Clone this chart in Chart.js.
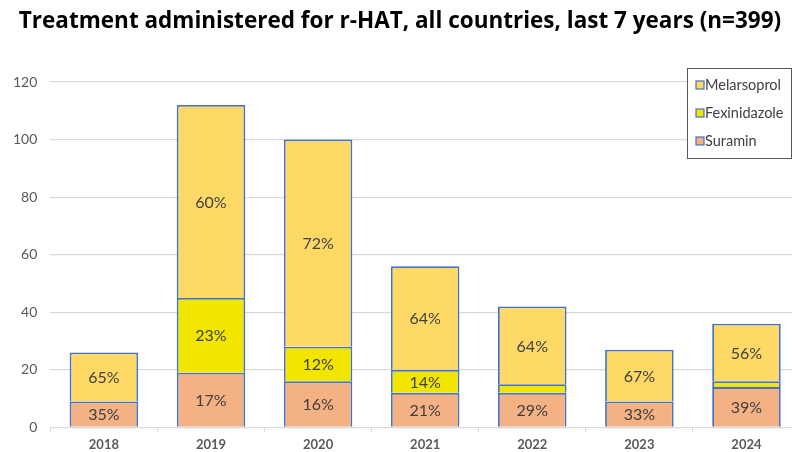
<!DOCTYPE html>
<html>
<head>
<meta charset="utf-8">
<script src="https://cdn.jsdelivr.net/npm/chart.js"></script>
<style>
  body { margin: 0; overflow: hidden; background: #fff; }
  #wrap { width: 800px; height: 452px; }
</style>
</head>
<body>
<div id="wrap"><canvas id="hatChart" width="800" height="452"></canvas></div>
<script>
const years = ['2018', '2019', '2020', '2021', '2022', '2023', '2024'];
const suramin = [9, 19, 16, 12, 12, 9, 14];
const fexinidazole = [0, 26, 12, 8, 3, 0, 2];
const melarsoprol = [17, 67, 72, 36, 27, 18, 20];
const yMax = 120;
const yStep = 20;

const labelFont = 'Lato, "Open Sans", sans-serif';

// percentage of the yearly total, written in the middle of each segment
const percentLabels = {
  id: 'percentLabels',
  afterDatasetsDraw(chart) {
    const ctx = chart.ctx;
    const totals = years.map((_, j) =>
      chart.data.datasets.reduce((s, ds) => s + ds.data[j], 0));
    ctx.save();
    ctx.font = '16px ' + labelFont;
    ctx.fillStyle = '#404040';
    ctx.textAlign = 'center';
    ctx.textBaseline = 'middle';
    chart.data.datasets.forEach((ds, i) => {
      const meta = chart.getDatasetMeta(i);
      meta.data.forEach((bar, j) => {
        const pct = Math.round(ds.data[j] / totals[j] * 100);
        if (pct < 10) return;
        const p = bar.getProps(['x', 'y', 'base'], true);
        ctx.fillText(pct + '%', p.x, (p.y + p.base) / 2 + 1);
      });
    });
    ctx.restore();
  }
};

// boxed legend sitting over the top right of the plot
const boxLegend = {
  id: 'boxLegend',
  afterDraw(chart) {
    const ctx = chart.ctx;
    const x0 = 687, y0 = 68, w = 104, h = 90;
    ctx.save();
    ctx.fillStyle = '#fff';
    ctx.fillRect(x0, y0, w, h);
    ctx.strokeStyle = '#595959';
    ctx.lineWidth = 1;
    ctx.strokeRect(x0 + 0.5, y0 + 0.5, w, h);
    const items = chart.data.datasets.slice().reverse();
    ctx.font = '14.5px ' + labelFont;
    ctx.textBaseline = 'middle';
    items.forEach((ds, k) => {
      const cy = 85 + k * 28;
      ctx.fillStyle = ds.backgroundColor;
      ctx.fillRect(696, cy - 4, 8, 8);
      ctx.strokeStyle = ds.borderColor;
      ctx.lineWidth = 1.2;
      ctx.strokeRect(696, cy - 4, 8, 8);
      ctx.fillStyle = '#404040';
      ctx.fillText(ds.label, 705, cy);
    });
    ctx.restore();
  }
};

const common = { borderColor: '#4472C4', borderWidth: 1.8,
  categoryPercentage: 0.8, barPercentage: 0.8 };

new Chart(document.getElementById('hatChart'), {
  type: 'bar',
  data: {
    labels: years,
    datasets: [
      { label: 'Suramin', data: suramin, backgroundColor: '#F4B183', ...common },
      { label: 'Fexinidazole', data: fexinidazole, backgroundColor: '#F2E500', ...common },
      { label: 'Melarsoprol', data: melarsoprol, backgroundColor: '#FFD966', ...common }
    ]
  },
  options: {
    responsive: false,
    animation: false,
    layout: { padding: { left: 0, right: 0, top: 0, bottom: -6 } },
    plugins: {
      legend: { display: false },
      tooltip: { enabled: false },
      title: {
        display: true,
        text: 'Treatment administered for r-HAT, all countries, last 7 years (n=399)',
        color: '#000',
        font: { family: '"Open Sans", sans-serif', size: 22.5, weight: 'bold' },
        padding: { top: 8, bottom: 47 }
      }
    },
    scales: {
      x: {
        stacked: true,
        grid: { drawOnChartArea: false, drawTicks: true, tickLength: 5, color: '#d9d9d9' },
        border: { color: '#d9d9d9', width: 1 },
        ticks: { color: '#595959', padding: 5, font: { family: labelFont, size: 13, weight: 'bold' } }
      },
      y: {
        stacked: true,
        min: 0,
        max: yMax,
        ticks: { stepSize: yStep, color: '#595959', padding: 13, font: { family: labelFont, size: 14 } },
        grid: { color: '#d9d9d9', drawTicks: false, lineWidth: 1.2 },
        border: { display: false }
      }
    }
  },
  plugins: [percentLabels, boxLegend]
});
</script>
</body>
</html>
